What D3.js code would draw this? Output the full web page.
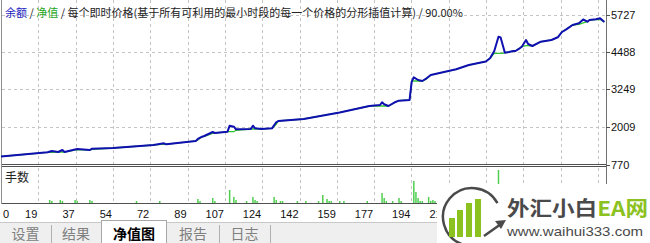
<!DOCTYPE html>
<html>
<head>
<meta charset="utf-8">
<script src="https://cdn.jsdelivr.net/npm/d3@7"></script>
<style>
body { margin: 0; background: #fff; }
svg { display: block; font-family: "Liberation Sans", Arial, sans-serif; }
.grid line { stroke: #c4c4c4; stroke-dasharray: 3,3; shape-rendering: crispEdges; }
.cjk { font-family: "Noto Sans CJK SC", sans-serif; }
</style>
</head>
<body>
<div class="chart-container"></div>
<script>
// tick labels
const xTickLabels = ['0','19','37','54','72','89','107','124','142','159','177','194','212','229','247','264','282'];
const yTickValues = [770, 2009, 3249, 4488, 5727];

// balance / equity, by trade number
const balanceTrades = [0,22,24,27,29,30,36,42,43,53,72,77,78,92,93,95,96,100,101,107,108,110,111,118,119,120,123,128,130,131,143,160,174,179,180,181,183,186,188,193,194,195,197,199,201,203,215,221,229,231,233,235,236,237,238,240,242,243,245,246,248,249,251,255,260,263,265,267,270,273,275,277,278,281,283,285];
const balanceValues = [1034,1173,1216,1183,1249,1183,1282,1249,1292,1315,1414,1471,1438,1547,1613,1689,1712,1844,1811,1854,2052,2019,1933,1943,2052,1966,1943,1966,2165,2208,2274,2489,2703,2736,2826,2760,2703,2826,2879,2902,3507,3652,3563,3530,3619,3728,3916,4058,4174,4280,4521,4994,4967,4720,4465,4488,4521,4521,4610,4663,4885,4752,4686,4828,4885,4974,5149,5238,5380,5437,5562,5490,5546,5569,5602,5480];
const equityValues = [1034,1173,1175,1183,1183,1183,1260,1249,1270,1315,1414,1440,1438,1547,1580,1689,1700,1800,1811,1854,1854,1854,1900,1943,1943,1950,1943,1966,2100,2208,2274,2489,2703,2703,2703,2703,2703,2826,2879,2902,3507,3530,3530,3530,3600,3728,3916,4058,4174,4280,4445,4445,4445,4445,4465,4488,4521,4521,4610,4663,4700,4700,4686,4828,4885,4974,5149,5238,5380,5400,5450,5490,5546,5560,5560,5480];

// lots per trade
const lotTrades = [23,24,28,29,35,36,42,43,64,75,93,94,100,101,108,110,111,116,119,120,121,129,130,132,133,140,144,150,152,154,155,156,160,162,173,180,181,182,185,188,189,195,196,197,198,199,202,203,204,205,235];
const lotValues = [0.03,0.02,0.03,0.02,0.03,0.02,0.03,0.02,0.02,0.02,0.04,0.02,0.05,0.02,0.13,0.06,0.03,0.02,0.06,0.03,0.02,0.06,0.03,0.02,0.02,0.02,0.02,0.02,0.08,0.04,0.02,0.02,0.02,0.02,0.02,0.10,0.05,0.02,0.02,0.05,0.02,0.22,0.11,0.05,0.02,0.02,0.06,0.02,0.03,0.02,0.33];

const tabNames = ['设置', '结果', '净值图', '报告', '日志'];

const width = 650, height = 243;
const svg = d3.select('.chart-container').append('svg')
    .attr('width', width).attr('height', height);

const left = 1.5, right = 606;

const x = d3.scaleLinear().domain([0, 282]).range([1, 598]);
const gridX = d3.scaleLinear().domain([0, xTickLabels.length - 1]).range([1, 598]);
const y = d3.scaleLinear().domain([770, 5727]).range([164.5, 14.5]);
const yLots = d3.scaleLinear().domain([0, 0.36]).range([203, 167]);

// grid
const grid = svg.append('g').attr('class', 'grid');
grid.selectAll('.v').data(xTickLabels.slice(1)).enter().append('line')
    .attr('x1', (d, i) => Math.round(gridX(i + 1)) + 0.5)
    .attr('x2', (d, i) => Math.round(gridX(i + 1)) + 0.5)
    .attr('y1', 0).attr('y2', 203);
grid.selectAll('.h').data(yTickValues.slice(1)).enter().append('line')
    .attr('x1', left).attr('x2', right)
    .attr('y1', d => Math.round(y(d)) + 0.5)
    .attr('y2', d => Math.round(y(d)) + 0.5);

// frame
const frame = svg.append('g').attr('stroke', '#707070').attr('shape-rendering', 'crispEdges');
frame.append('line').attr('x1', left).attr('x2', left).attr('y1', 0).attr('y2', 203.5).attr('stroke', '#909090');
frame.append('line').attr('x1', right + 0.5).attr('x2', right + 0.5).attr('y1', 0).attr('y2', 203.5);
frame.append('line').attr('x1', left).attr('x2', right).attr('y1', 164.5).attr('y2', 164.5).attr('stroke', '#505050');
frame.append('line').attr('x1', left).attr('x2', right).attr('y1', 166.5).attr('y2', 166.5).attr('stroke', '#505050');
frame.append('line').attr('x1', left).attr('x2', right).attr('y1', 203.5).attr('y2', 203.5).attr('stroke', '#505050');

// y axis ticks + labels
const yAxis = svg.append('g');
yAxis.selectAll('line').data(yTickValues).enter().append('line')
    .attr('x1', right).attr('x2', right + 4)
    .attr('y1', d => Math.round(y(d)) + 0.5).attr('y2', d => Math.round(y(d)) + 0.5)
    .attr('stroke', '#505050');
yAxis.selectAll('text').data(yTickValues).enter().append('text')
    .attr('x', right + 5).attr('y', d => y(d) + 4)
    .attr('font-size', 11).attr('fill', '#111')
    .text(d => d);

// lots bars
svg.append('g').attr('id', 'lots')
    .selectAll('line').data(lotTrades).enter().append('line')
    .attr('x1', d => x(d)).attr('x2', d => x(d))
    .attr('y1', 203).attr('y2', (d, i) => yLots(lotValues[i]))
    .attr('stroke', '#4fcf4f').attr('stroke-width', 1.5);

// equity and balance
const eqLine = d3.line().x((d, i) => x(balanceTrades[i])).y(d => y(d));
svg.append('path').datum(equityValues)
    .attr('d', eqLine).attr('fill', 'none')
    .attr('stroke', '#2fc42f').attr('stroke-width', 1.3);
svg.append('path').datum(balanceValues)
    .attr('d', eqLine).attr('fill', 'none')
    .attr('stroke', '#1010b0').attr('stroke-width', 2)
    .attr('stroke-linejoin', 'round');

// header
const title = svg.append('text').attr('class', 'cjk')
    .attr('x', 5).attr('y', 17).attr('font-size', 11).attr('fill', '#222');
title.append('tspan').attr('fill', '#1c1cc0').text('余额');
title.append('tspan').text(' / ');
title.append('tspan').attr('fill', '#1aa51a').text('净值');
title.append('tspan').text(' / 每个即时价格(基于所有可利用的最小时段的每一个价格的分形插值计算) / 90.00%');

svg.append('text').attr('class', 'cjk')
    .attr('x', 5).attr('y', 182).attr('font-size', 12).attr('fill', '#222')
    .text('手数');

// x labels (the ones past 212 sit under the watermark)
svg.append('g').selectAll('text')
    .data(xTickLabels.map((d, i) => ({label: d, i: i})).filter(d => gridX(d.i) < 460))
    .enter().append('text')
    .attr('x', d => d.i === 0 ? 3 : gridX(d.i) - 1)
    .attr('y', 218)
    .attr('text-anchor', d => d.i === 0 ? 'start' : 'end')
    .attr('font-size', 11).attr('fill', '#111')
    .text(d => d.label);

// tab bar
const tabEdges = [0, 51, 101, 167, 219, 270];
const tabs = svg.append('g');
tabs.append('rect').attr('x', 0).attr('y', 222).attr('width', 437).attr('height', 21).attr('fill', '#efefef');
tabs.append('line').attr('x1', 0).attr('x2', 437).attr('y1', 222.5).attr('y2', 222.5).attr('stroke', '#c8c8c8');
tabs.append('rect').attr('x', 101.5).attr('y', 220.5).attr('width', 65).attr('height', 23)
    .attr('fill', '#fff').attr('stroke', '#a8a8a8');
tabs.selectAll('.sep').data([51, 219, 270]).enter().append('line')
    .attr('x1', d => d + 0.5).attr('x2', d => d + 0.5).attr('y1', 225).attr('y2', 243)
    .attr('stroke', '#b0b0b0');
tabs.selectAll('text').data(tabNames).enter().append('text')
    .attr('class', 'cjk')
    .attr('x', (d, i) => (tabEdges[i] + tabEdges[i + 1]) / 2)
    .attr('y', 239)
    .attr('text-anchor', 'middle')
    .attr('font-size', 14)
    .attr('font-weight', (d, i) => i === 2 ? 'bold' : 'normal')
    .attr('fill', (d, i) => i === 2 ? '#000' : '#808080')
    .text(d => d);

// watermark
const logo = svg.append('g');
logo.append('rect').attr('x', 437).attr('y', 184).attr('width', 213).attr('height', 59).attr('fill', '#fff');
const arc = d3.path();
arc.arc(472, 217, 29, -0.5, 1.9, true);
logo.append('path').attr('d', arc.toString()).attr('fill', 'none').attr('stroke', '#4a4a4a').attr('stroke-width', 2.5);
logo.append('line').attr('x1', 484).attr('y1', 236).attr('x2', 501).attr('y2', 224)
    .attr('stroke', '#4a4a4a').attr('stroke-width', 2.5);
logo.append('path').attr('d', 'M506,220 L495,221 L501,229 Z').attr('fill', '#4a4a4a');
const logoBars = [[449, 218], [457, 210], [466, 203], [475, 199]];
logo.selectAll('.lb').data(logoBars).enter().append('rect')
    .attr('x', d => d[0]).attr('y', d => d[1]).attr('width', 6).attr('height', d => 237 - d[1])
    .attr('fill', '#8cc21f');
const brand = logo.append('text').attr('class', 'cjk')
    .attr('x', 507).attr('y', 216).attr('font-size', 20).attr('font-weight', 'bold')
    .attr('textLength', 141).attr('lengthAdjust', 'spacingAndGlyphs');
brand.append('tspan').attr('fill', '#4a4a4a').text('外汇小白');
brand.append('tspan').attr('fill', '#8cc21f').text('EA网');
logo.append('text')
    .attr('x', 507).attr('y', 236).attr('font-size', 13).attr('fill', '#4a4a4a')
    .attr('textLength', 136).attr('lengthAdjust', 'spacingAndGlyphs')
    .text('www.waihui333.com');
</script>
</body>
</html>
